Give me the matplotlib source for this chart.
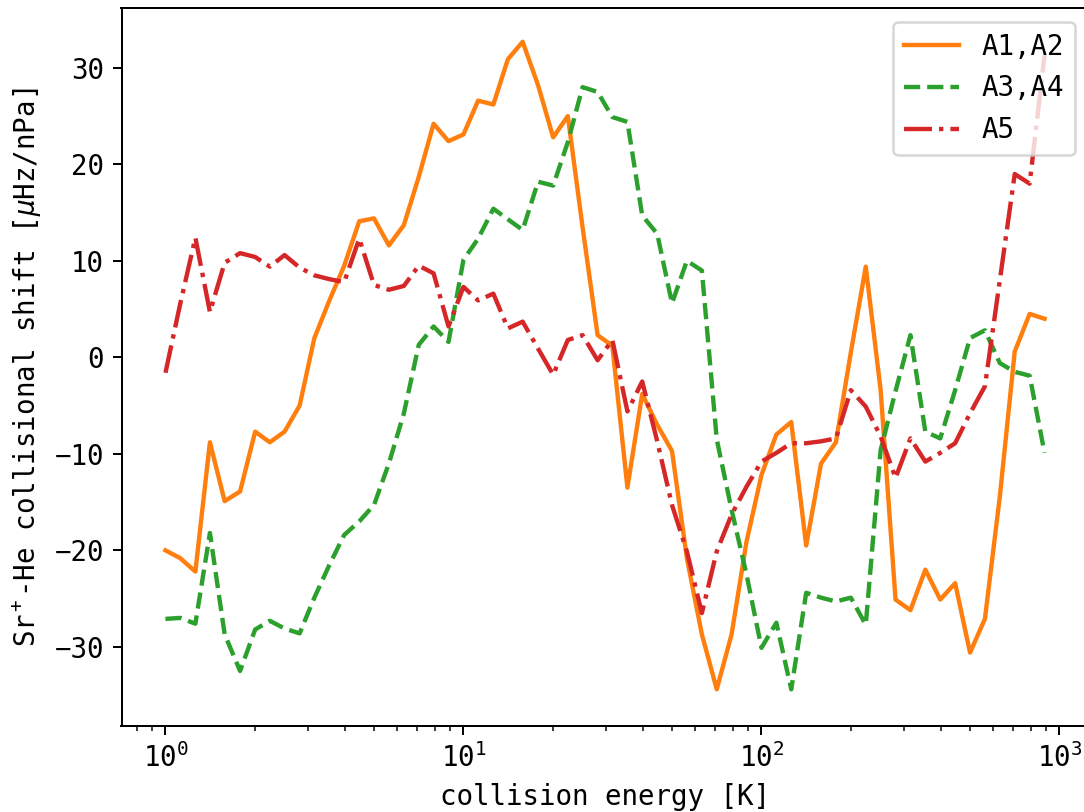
import numpy as np
import matplotlib
matplotlib.use("Agg")
from matplotlib import pyplot as plt

plt.rcParams['font.family'] = ['DejaVu Sans Mono']
plt.rcParams['font.size'] = 11
plt.rcParams['mathtext.fontset'] = 'custom'
plt.rcParams['mathtext.rm'] = 'DejaVu Sans Mono'
plt.rcParams['mathtext.it'] = 'DejaVu Sans Mono:italic'
plt.rcParams['mathtext.bf'] = 'DejaVu Sans Mono:bold'

# collision energies [K], log spaced grid
energy = [1.00, 1.12, 1.26, 1.41, 1.58, 1.78, 2.00, 2.24, 2.51, 2.82,
          3.16, 3.55, 3.98, 4.47, 5.01, 5.62, 6.31, 7.08, 7.94, 8.91,
          10.0, 11.2, 12.6, 14.1, 15.8, 17.8, 20.0, 22.4, 25.1, 28.2,
          31.6, 35.5, 39.8, 44.7, 50.1, 56.2, 63.1, 70.8, 79.4, 89.1,
          100.0, 112.2, 125.9, 141.3, 158.5, 177.8, 199.5, 223.9, 251.2, 281.8,
          316.2, 354.8, 398.1, 446.7, 501.2, 562.3, 631.0, 707.9, 794.3, 891.3]

a1_a2 = [-20.0, -20.8, -22.2, -8.8, -14.9, -13.9, -7.7, -8.8, -7.7, -5.0,
         2.0, 5.9, 9.5, 14.1, 14.4, 11.6, 13.7, 18.7, 24.2, 22.4,
         23.1, 26.6, 26.2, 30.9, 32.7, 28.2, 22.8, 25.0, 13.5, 2.3,
         1.2, -13.5, -3.8, -7.0, -9.7, -20.8, -28.7, -34.4, -28.7, -19.1,
         -12.2, -8.0, -6.7, -19.5, -11.0, -8.8, 0.5, 9.4, -3.4, -25.1,
         -26.2, -22.0, -25.1, -23.4, -30.6, -27.1, -14.4, 0.6, 4.5, 4.0]

a3_a4 = [-27.1, -27.0, -27.6, -18.2, -28.7, -32.5, -28.2, -27.3, -28.1, -28.6,
         -24.9, -21.5, -18.4, -17.0, -15.3, -11.0, -5.8, 1.3, 3.2, 1.6,
         10.1, 12.3, 15.4, 14.3, 13.2, 18.2, 17.8, 22.3, 28.0, 27.5,
         24.9, 24.4, 14.7, 12.8, 5.6, 10.0, 9.0, -8.5, -15.8, -22.5,
         -30.1, -27.5, -34.4, -24.4, -24.9, -25.3, -24.9, -27.7, -9.6, -3.5,
         2.3, -7.7, -8.4, -3.4, 2.0, 2.8, -0.6, -1.5, -1.9, -9.9]

a5 = [-1.6, 5.5, 12.4, 4.7, 9.8, 10.8, 10.4, 9.4, 10.6, 9.3,
      8.5, 8.1, 7.8, 12.3, 7.5, 7.0, 7.4, 9.5, 8.7, 3.2,
      7.3, 5.9, 6.6, 3.0, 3.7, 0.9, -1.8, 1.8, 2.3, -0.3,
      1.8, -5.6, -2.5, -8.7, -15.3, -20.1, -26.5, -20.1, -16.3, -13.4,
      -10.8, -9.9, -8.9, -8.9, -8.7, -8.4, -3.4, -5.1, -8.2, -12.5,
      -8.4, -10.8, -9.9, -8.9, -5.8, -3.0, 8.0, 19.0, 18.0, 31.3]

W, H = 1084, 812
fig = plt.figure(figsize=(W / 180.0, H / 180.0), dpi=180)
ax = fig.add_axes([121.5 / W, (H - 726.0) / H, 967.0 / W, 718.0 / H])

ax.plot(energy, a1_a2, color='C1', lw=1.75, ls='-', label='A1,A2')
ax.plot(energy, a3_a4, color='C2', lw=1.75, ls='--', label='A3,A4')
ax.plot(energy, a5, color='C3', lw=1.75, ls='-.', label='A5')

ax.set_xscale('log')
ax.set_ylim(-38.2, 36.2)
ax.set_xlabel('collision energy [K]')
ax.set_ylabel(r'Sr$^+$-He collisional shift [$\mu$Hz/nPa]')
ax.legend(loc='upper right')

fig.savefig('out.png', dpi=180)
